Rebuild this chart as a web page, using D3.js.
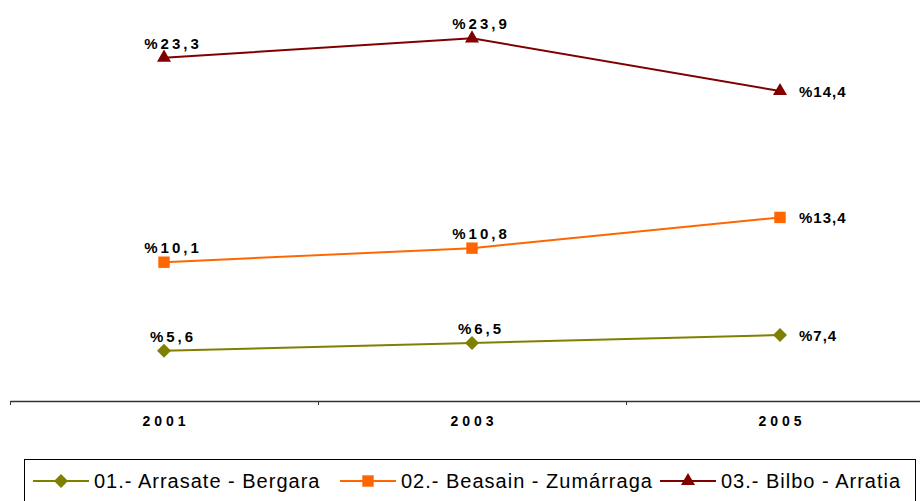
<!DOCTYPE html>
<html>
<head>
<meta charset="utf-8">
<script src="https://cdn.jsdelivr.net/npm/d3@7"></script>
<style>
  body { margin: 0; background: #fff; }
  svg { display: block; }
</style>
</head>
<body>
<svg id="chart" width="920" height="501"></svg>
<script>
const years = ["2001", "2003", "2005"];
const seriesNames = ["01.- Arrasate - Bergara", "02.- Beasain - Zumárraga", "03.- Bilbo - Arratia"];
const arrasate = [5.6, 6.5, 7.4];
const beasain = [10.1, 10.8, 13.4];
const bilbo = [23.3, 23.9, 14.4];
const colors = ["#808000", "#ff6600", "#800000"];

const svg = d3.select("#chart");
const values = [arrasate, beasain, bilbo];
const labelFont = "'Liberation Sans', Arial, sans-serif";

// stacked lines: each series sits on top of the previous ones
let cum = years.map(() => 0);
const stacked = values.map(v => {
  cum = cum.map((c, i) => c + v[i]);
  return cum.slice();
});

const x = d3.scaleBand().domain(years).range([10, 934]);
const y = d3.scaleLinear().domain([0, 45]).range([400, 5]);

const axis = svg.append("g")
  .attr("transform", "translate(0,401)")
  .call(d3.axisBottom(x).tickSize(0).tickPadding(15));
axis.select(".domain").attr("stroke", "#333").attr("stroke-width", 1.5);
axis.selectAll("text")
  .attr("font-family", labelFont)
  .attr("font-weight", "bold")
  .attr("font-size", 14)
  .attr("letter-spacing", 4)
  .attr("dx", 2)
  .attr("fill", "#000");
svg.append("g").selectAll("line")
  .data([10, 318, 626])
  .join("line")
  .attr("x1", d => d + 0.5).attr("x2", d => d + 0.5)
  .attr("y1", 401).attr("y2", 405)
  .attr("stroke", "#333");

const cx = d => x(d) + x.bandwidth() / 2;
const line = d3.line().x((d, i) => cx(years[i])).y(d => y(d));

// marker drawing shared by chart and legend
function marker(sel, k) {
  if (k === 0) {
    sel.append("path")
      .attr("d", d3.symbol().type(d3.symbolSquare).size(98))
      .attr("transform", "rotate(45)")
      .attr("fill", colors[k]);
  } else if (k === 1) {
    sel.append("path")
      .attr("d", d3.symbol().type(d3.symbolSquare).size(130))
      .attr("fill", colors[k]);
  } else {
    sel.append("path")
      .attr("d", d3.symbol().type(d3.symbolTriangle).size(85))
      .attr("fill", colors[k]);
  }
}

stacked.forEach((s, k) => {
  const g = svg.append("g");
  g.append("path")
    .attr("d", line(s))
    .attr("fill", "none")
    .attr("stroke", colors[k])
    .attr("stroke-width", 2);
  g.selectAll("g.m")
    .data(s)
    .join("g")
    .attr("class", "m")
    .attr("transform", (d, i) => `translate(${cx(years[i])},${y(d)})`)
    .each(function() { marker(d3.select(this), k); });
  g.selectAll("text")
    .data(s)
    .join("text")
    .attr("x", (d, i) => i === 2 ? cx(years[i]) + 19 : cx(years[i]) + 9)
    .attr("y", (d, i) => i === 2 ? y(d) + 6 : y(d) - 9)
    .attr("text-anchor", (d, i) => i === 2 ? "start" : "middle")
    .attr("font-family", labelFont)
    .attr("font-weight", "bold")
    .attr("font-size", 15)
    .attr("letter-spacing", (d, i) => i === 2 ? 1 : 3)
    .attr("fill", "#000")
    .text((d, i) => "%" + String(values[k][i]).replace(".", ","));
});

// legend
const leg = svg.append("g");
leg.append("rect")
  .attr("x", 24.5).attr("y", 459.5)
  .attr("width", 891).attr("height", 50)
  .attr("fill", "#fff").attr("stroke", "#000");
const legX = [33, 340, 660];
seriesNames.forEach((name, k) => {
  const g = leg.append("g").attr("transform", `translate(${legX[k]},481)`);
  g.append("line").attr("x1", 0).attr("x2", 56).attr("stroke", colors[k]).attr("stroke-width", 2);
  const m = g.append("g").attr("transform", "translate(28,0)");
  marker(m, k);
  g.append("text")
    .attr("x", 61).attr("y", 7)
    .attr("font-family", labelFont)
    .attr("font-size", 20)
    .attr("letter-spacing", 1)
    .attr("fill", "#000")
    .text(name);
});
</script>
</body>
</html>
